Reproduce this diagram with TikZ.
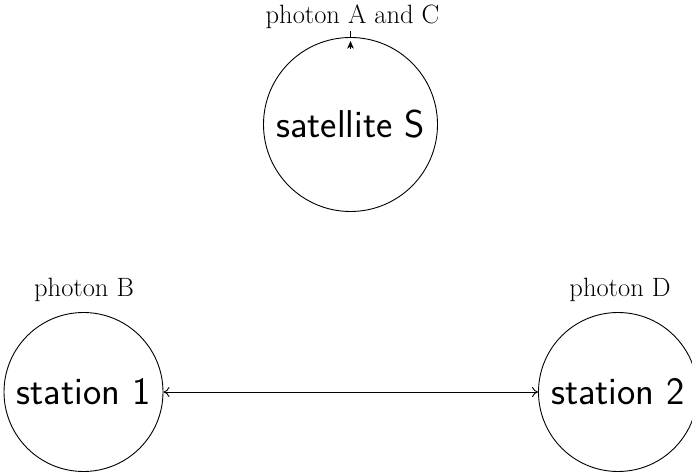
\documentclass[tikz,border=0pt]{standalone}
\usepackage{fontspec}
\usetikzlibrary{arrows.meta,calc}
\begin{document}
\begin{tikzpicture}[x=1pt,y=1pt,line width=0.9pt,
  bigcirc/.style={draw,circle,inner sep=0pt,font=\sffamily\fontsize{38.8}{46}\selectfont},
  photlabel/.style={anchor=base,inner sep=0pt,font=\fontsize{26.5}{32}\selectfont}]
\useasboundingbox (0,0) rectangle (692,473);
\node[bigcirc,minimum size=174pt] (sat) at (350.5,348.5) {satellite S};
\node[bigcirc,minimum size=159pt] (s1) at (83.5,81) {station 1};
\node[bigcirc,minimum size=159pt] (s2) at (618,81) {station 2};
\node[photlabel] (la) at (352.5,449.7) {photon A and C};
\node[photlabel] (lb) at (84,176) {photon B};
\node[photlabel] (ld) at (620,176) {photon D};
\coordinate (tick) at ($(sat.north)+(0,6)$);
\coordinate (abase) at ($(sat.north)+(0,-11.5)$);
\coordinate (atip) at ($(sat.north)+(0,-4)$);
\draw (sat.north) -- (tick);
\draw[-{Stealth[length=7.5pt,width=6.5pt,inset=2pt]}] (abase) -- (atip);
\draw[{To[length=6pt,width=10pt]}-{To[length=6pt,width=10pt]}] (s1) -- (s2);
\end{tikzpicture}
\end{document}
